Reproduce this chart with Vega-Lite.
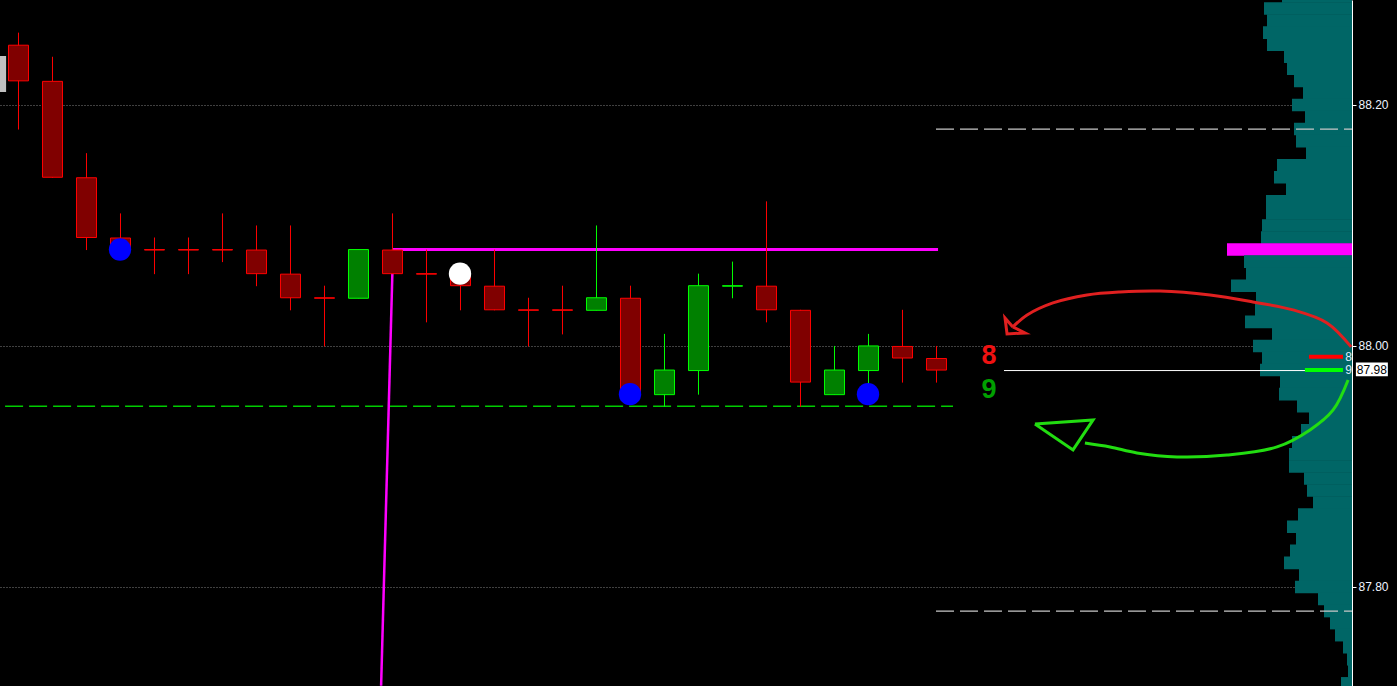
{
  "$schema": "https://vega.github.io/schema/vega-lite/v6.json",
  "width": 1352,
  "height": 686,
  "autosize": "none",
  "padding": {"left": 0, "top": 0, "right": 45, "bottom": 0},
  "background": "#000000",
  "config": {"view": {"stroke": null}, "axisX": {"disable": true}, "scale": {"continuousPadding": 0}},
  "datasets": {
    "candles": [
      {"i":0,"o":88.25,"h":88.26,"l":88.18,"c":88.22,"dir":"down"},
      {"i":1,"o":88.22,"h":88.24,"l":88.14,"c":88.14,"dir":"down"},
      {"i":2,"o":88.14,"h":88.16,"l":88.08,"c":88.09,"dir":"down"},
      {"i":3,"o":88.09,"h":88.11,"l":88.08,"c":88.08,"dir":"down"},
      {"i":4,"o":88.08,"h":88.09,"l":88.06,"c":88.08,"dir":"down"},
      {"i":5,"o":88.08,"h":88.09,"l":88.06,"c":88.08,"dir":"down"},
      {"i":6,"o":88.08,"h":88.11,"l":88.07,"c":88.08,"dir":"down"},
      {"i":7,"o":88.08,"h":88.10,"l":88.05,"c":88.06,"dir":"down"},
      {"i":8,"o":88.06,"h":88.10,"l":88.03,"c":88.04,"dir":"down"},
      {"i":9,"o":88.04,"h":88.05,"l":88.00,"c":88.04,"dir":"down"},
      {"i":10,"o":88.04,"h":88.08,"l":88.04,"c":88.08,"dir":"up"},
      {"i":11,"o":88.08,"h":88.11,"l":88.06,"c":88.06,"dir":"down"},
      {"i":12,"o":88.06,"h":88.08,"l":88.02,"c":88.06,"dir":"down"},
      {"i":13,"o":88.06,"h":88.06,"l":88.03,"c":88.05,"dir":"down"},
      {"i":14,"o":88.05,"h":88.08,"l":88.03,"c":88.03,"dir":"down"},
      {"i":15,"o":88.03,"h":88.04,"l":88.00,"c":88.03,"dir":"down"},
      {"i":16,"o":88.03,"h":88.05,"l":88.01,"c":88.03,"dir":"down"},
      {"i":17,"o":88.03,"h":88.10,"l":88.03,"c":88.04,"dir":"up"},
      {"i":18,"o":88.04,"h":88.05,"l":87.96,"c":87.96,"dir":"down"},
      {"i":19,"o":87.96,"h":88.01,"l":87.95,"c":87.98,"dir":"up"},
      {"i":20,"o":87.98,"h":88.06,"l":87.96,"c":88.05,"dir":"up"},
      {"i":21,"o":88.05,"h":88.07,"l":88.04,"c":88.05,"dir":"up"},
      {"i":22,"o":88.05,"h":88.12,"l":88.02,"c":88.03,"dir":"down"},
      {"i":23,"o":88.03,"h":88.03,"l":87.95,"c":87.97,"dir":"down"},
      {"i":24,"o":87.96,"h":88.00,"l":87.96,"c":87.98,"dir":"up"},
      {"i":25,"o":87.98,"h":88.01,"l":87.96,"c":88.00,"dir":"up"},
      {"i":26,"o":88.00,"h":88.03,"l":87.97,"c":87.99,"dir":"down"},
      {"i":27,"o":87.99,"h":88.00,"l":87.97,"c":87.98,"dir":"down"}
    ],
    "dots": [
      {"i":3,"p":88.08,"k":"blue"},
      {"i":13,"p":88.06,"k":"white"},
      {"i":18,"p":87.96,"k":"blue"},
      {"i":25,"p":87.96,"k":"blue"}
    ],
    "profile": [
      {"p":88.29,"v":70,"k":"vol"},{"p":88.28,"v":88,"k":"vol"},{"p":88.27,"v":85,"k":"vol"},
      {"p":88.26,"v":89,"k":"vol"},{"p":88.25,"v":85,"k":"vol"},{"p":88.24,"v":68,"k":"vol"},
      {"p":88.23,"v":65,"k":"vol"},{"p":88.22,"v":58,"k":"vol"},{"p":88.21,"v":49,"k":"vol"},
      {"p":88.20,"v":60,"k":"vol"},{"p":88.19,"v":47,"k":"vol"},{"p":88.18,"v":58,"k":"vol"},
      {"p":88.17,"v":56,"k":"vol"},{"p":88.16,"v":46,"k":"vol"},{"p":88.15,"v":75,"k":"vol"},
      {"p":88.14,"v":78,"k":"vol"},{"p":88.13,"v":66,"k":"vol"},{"p":88.12,"v":86,"k":"vol"},
      {"p":88.11,"v":86,"k":"vol"},{"p":88.10,"v":90,"k":"vol"},{"p":88.09,"v":91,"k":"vol"},
      {"p":88.08,"v":125,"k":"poc"},{"p":88.07,"v":108,"k":"vol"},{"p":88.06,"v":106,"k":"vol"},
      {"p":88.05,"v":121,"k":"vol"},{"p":88.04,"v":96,"k":"vol"},{"p":88.03,"v":97,"k":"vol"},
      {"p":88.02,"v":107,"k":"vol"},{"p":88.01,"v":80,"k":"vol"},{"p":88.00,"v":99,"k":"vol"},
      {"p":87.99,"v":90,"k":"vol"},{"p":87.98,"v":92,"k":"vol"},{"p":87.97,"v":72,"k":"vol"},
      {"p":87.96,"v":73,"k":"vol"},{"p":87.95,"v":55,"k":"vol"},{"p":87.94,"v":43,"k":"vol"},
      {"p":87.93,"v":51,"k":"vol"},{"p":87.92,"v":60,"k":"vol"},{"p":87.91,"v":63,"k":"vol"},
      {"p":87.90,"v":63,"k":"vol"},{"p":87.89,"v":48,"k":"vol"},{"p":87.88,"v":45,"k":"vol"},
      {"p":87.87,"v":39,"k":"vol"},{"p":87.86,"v":54,"k":"vol"},{"p":87.85,"v":65,"k":"vol"},
      {"p":87.84,"v":56,"k":"vol"},{"p":87.83,"v":62,"k":"vol"},{"p":87.82,"v":68,"k":"vol"},
      {"p":87.81,"v":53,"k":"vol"},{"p":87.80,"v":57,"k":"vol"},{"p":87.79,"v":34,"k":"vol"},
      {"p":87.78,"v":28,"k":"vol"},{"p":87.77,"v":22,"k":"vol"},{"p":87.76,"v":17,"k":"vol"},
      {"p":87.75,"v":9,"k":"vol"},{"p":87.74,"v":5,"k":"vol"},{"p":87.73,"v":4,"k":"vol"},
      {"p":87.72,"v":11,"k":"vol"}
    ],
    "arrows": [
      {"g":"rc","ord":0,"i":39.21,"p":87.9992},
      {"g":"rc","ord":1,"i":38.50,"p":88.0191},
      {"g":"rc","ord":2,"i":37.50,"p":88.0299},
      {"g":"rc","ord":3,"i":36.32,"p":88.0365},
      {"g":"rc","ord":4,"i":35.06,"p":88.0423},
      {"g":"rc","ord":5,"i":33.59,"p":88.0456},
      {"g":"rc","ord":6,"i":32.41,"p":88.0448},
      {"g":"rc","ord":7,"i":31.44,"p":88.0423},
      {"g":"rc","ord":8,"i":30.44,"p":88.0357},
      {"g":"rc","ord":9,"i":29.68,"p":88.0257},
      {"g":"rc","ord":10,"i":29.26,"p":88.0158},
      {"g":"rh","ord":0,"i":29.26,"p":88.0158},
      {"g":"rh","ord":1,"i":29.03,"p":88.0232},
      {"g":"rh","ord":2,"i":29.09,"p":88.0100},
      {"g":"rh","ord":3,"i":29.62,"p":88.0108},
      {"g":"rh","ord":4,"i":29.26,"p":88.0158},
      {"g":"gc","ord":0,"i":39.12,"p":87.9718},
      {"g":"gc","ord":1,"i":38.68,"p":87.9469},
      {"g":"gc","ord":2,"i":38.00,"p":87.9303},
      {"g":"gc","ord":3,"i":37.03,"p":87.9162},
      {"g":"gc","ord":4,"i":35.56,"p":87.9095},
      {"g":"gc","ord":5,"i":34.09,"p":87.9079},
      {"g":"gc","ord":6,"i":32.91,"p":87.9112},
      {"g":"gc","ord":7,"i":32.12,"p":87.9162},
      {"g":"gc","ord":8,"i":31.38,"p":87.9195},
      {"g":"gh","ord":0,"i":29.91,"p":87.9353},
      {"g":"gh","ord":1,"i":31.62,"p":87.9386},
      {"g":"gh","ord":2,"i":31.03,"p":87.9137},
      {"g":"gh","ord":3,"i":29.91,"p":87.9353}
    ]
  },
  "layer": [
    {
      "data": {"name": "profile"},
      "mark": {"type": "bar", "orient": "horizontal", "height": 12.6},
      "encoding": {
        "x": {"field": "v", "type": "quantitative", "scale": {"domain": [0, 1352], "reverse": true, "nice": false, "zero": false, "padding": 0}},
        "x2": {"datum": 0},
        "y": {"field": "p", "type": "quantitative", "title": null, "scale": {"domain": [87.7178, 88.2871], "nice": false, "zero": false, "padding": 0},
          "axis": {"orient": "right", "values": [87.8, 88.0, 88.2], "format": ".2f", "title": null,
            "domainColor": "#ffffff", "domainWidth": 1, "tickColor": "#ffffff", "tickSize": 4, "labelPadding": 2,
            "labelColor": "#eef4ff", "labelFont": "Liberation Sans", "labelFontSize": 12,
            "grid": true, "gridColor": "#808080", "gridDash": [1, 2], "gridWidth": 1}},
        "color": {"field": "k", "type": "nominal", "scale": {"domain": ["vol", "poc"], "range": ["#006666", "#ff00ff"]}, "legend": null}
      }
    },
    {
      "layer": [
        {
          "data": {"values": [{}]},
          "mark": {"type": "rect", "color": "#c0c0c0"},
          "encoding": {
            "x": {"datum": -0.59, "type": "quantitative", "scale": {"domain": [-0.5294, 39.2353], "nice": false, "zero": false, "padding": 0}},
            "x2": {"datum": -0.35},
            "y": {"datum": 88.2407, "type": "quantitative", "title": null, "scale": {"domain": [87.7178, 88.2871], "nice": false, "zero": false, "padding": 0}},
            "y2": {"datum": 88.2108}
          }
        },
        {
          "data": {"values": [{}]},
          "mark": {"type": "rule", "color": "#00cc00", "strokeWidth": 1.5, "strokeDash": [18, 6]},
          "encoding": {
            "x": {"datum": -0.38, "type": "quantitative", "scale": {"domain": [-0.5294, 39.2353], "nice": false, "zero": false, "padding": 0}},
            "x2": {"datum": 27.5},
            "y": {"datum": 87.95, "type": "quantitative", "title": null, "scale": {"domain": [87.7178, 88.2871], "nice": false, "zero": false, "padding": 0}}
          }
        },
        {
          "data": {"values": [{"p": 88.18}, {"p": 87.78}]},
          "mark": {"type": "rule", "color": "#c8c8c8", "strokeWidth": 1.2, "strokeDash": [18, 6]},
          "encoding": {
            "x": {"datum": 27.0, "type": "quantitative", "scale": {"domain": [-0.5294, 39.2353], "nice": false, "zero": false, "padding": 0}},
            "x2": {"datum": 39.235},
            "y": {"field": "p", "type": "quantitative", "title": null, "scale": {"domain": [87.7178, 88.2871], "nice": false, "zero": false, "padding": 0}}
          }
        },
        {
          "data": {"values": [{}]},
          "mark": {"type": "rule", "color": "#ff00ff", "strokeWidth": 2.5},
          "encoding": {
            "x": {"datum": 11.03, "type": "quantitative", "scale": {"domain": [-0.5294, 39.2353], "nice": false, "zero": false, "padding": 0}},
            "x2": {"datum": 10.68},
            "y": {"datum": 88.08, "type": "quantitative", "title": null, "scale": {"domain": [87.7178, 88.2871], "nice": false, "zero": false, "padding": 0}},
            "y2": {"datum": 87.718}
          }
        },
        {
          "data": {"values": [{}]},
          "mark": {"type": "rule", "color": "#ff00ff", "strokeWidth": 3},
          "encoding": {
            "x": {"datum": 11.03, "type": "quantitative", "scale": {"domain": [-0.5294, 39.2353], "nice": false, "zero": false, "padding": 0}},
            "x2": {"datum": 27.06},
            "y": {"datum": 88.08, "type": "quantitative", "title": null, "scale": {"domain": [87.7178, 88.2871], "nice": false, "zero": false, "padding": 0}}
          }
        },
        {
          "data": {"values": [{}]},
          "mark": {"type": "rule", "color": "#ffffff", "strokeWidth": 1, "yOffset": 0.5},
          "encoding": {
            "x": {"datum": 29.0, "type": "quantitative", "scale": {"domain": [-0.5294, 39.2353], "nice": false, "zero": false, "padding": 0}},
            "x2": {"datum": 38.6},
            "y": {"datum": 87.98, "type": "quantitative", "title": null, "scale": {"domain": [87.7178, 88.2871], "nice": false, "zero": false, "padding": 0}}
          }
        },
        {
          "data": {"name": "candles"},
          "mark": {"type": "rule", "strokeWidth": 1, "xOffset": 0.5, "yOffset": 0.5},
          "encoding": {
            "x": {"field": "i", "type": "quantitative", "scale": {"domain": [-0.5294, 39.2353], "nice": false, "zero": false, "padding": 0}},
            "y": {"field": "l", "type": "quantitative", "title": null, "scale": {"domain": [87.7178, 88.2871], "nice": false, "zero": false, "padding": 0}},
            "y2": {"field": "h"},
            "stroke": {"field": "dir", "type": "nominal", "scale": {"domain": ["up", "down"], "range": ["#00ff00", "#ff0000"]}, "legend": null}
          }
        },
        {
          "data": {"name": "candles"},
          "mark": {"type": "bar", "orient": "vertical", "width": 20, "strokeWidth": 1, "xOffset": 0.5, "yOffset": 0.5},
          "encoding": {
            "x": {"field": "i", "type": "quantitative", "scale": {"domain": [-0.5294, 39.2353], "nice": false, "zero": false, "padding": 0}},
            "y": {"field": "o", "type": "quantitative", "title": null, "scale": {"domain": [87.7178, 88.2871], "nice": false, "zero": false, "padding": 0}},
            "y2": {"field": "c"},
            "fill": {"field": "dir", "type": "nominal", "scale": {"domain": ["up", "down"], "range": ["#008000", "#800000"]}, "legend": null},
            "stroke": {"field": "dir", "type": "nominal", "scale": {"domain": ["up", "down"], "range": ["#00ff00", "#ff0000"]}, "legend": null}
          }
        },
        {
          "data": {"name": "dots"},
          "transform": [{"filter": "datum.k == 'blue'"}],
          "mark": {"type": "circle", "color": "#0000ff", "opacity": 1, "size": 500},
          "encoding": {
            "x": {"field": "i", "type": "quantitative", "scale": {"domain": [-0.5294, 39.2353], "nice": false, "zero": false, "padding": 0}},
            "y": {"field": "p", "type": "quantitative", "title": null, "scale": {"domain": [87.7178, 88.2871], "nice": false, "zero": false, "padding": 0}}
          }
        },
        {
          "data": {"name": "dots"},
          "transform": [{"filter": "datum.k == 'white'"}],
          "mark": {"type": "circle", "color": "#ffffff", "opacity": 1, "size": 500},
          "encoding": {
            "x": {"field": "i", "type": "quantitative", "scale": {"domain": [-0.5294, 39.2353], "nice": false, "zero": false, "padding": 0}},
            "y": {"field": "p", "type": "quantitative", "title": null, "scale": {"domain": [87.7178, 88.2871], "nice": false, "zero": false, "padding": 0}}
          }
        },
        {
          "data": {"values": [{}]},
          "mark": {"type": "rule", "color": "#ff0000", "strokeWidth": 4},
          "encoding": {
            "x": {"datum": 37.97, "type": "quantitative", "scale": {"domain": [-0.5294, 39.2353], "nice": false, "zero": false, "padding": 0}},
            "x2": {"datum": 38.97},
            "y": {"datum": 87.991, "type": "quantitative", "title": null, "scale": {"domain": [87.7178, 88.2871], "nice": false, "zero": false, "padding": 0}}
          }
        },
        {
          "data": {"values": [{}]},
          "mark": {"type": "rule", "color": "#00ff00", "strokeWidth": 4},
          "encoding": {
            "x": {"datum": 37.85, "type": "quantitative", "scale": {"domain": [-0.5294, 39.2353], "nice": false, "zero": false, "padding": 0}},
            "x2": {"datum": 38.97},
            "y": {"datum": 87.98, "type": "quantitative", "title": null, "scale": {"domain": [87.7178, 88.2871], "nice": false, "zero": false, "padding": 0}}
          }
        },
        {
          "data": {"values": [{"t": "8", "p": 87.991}, {"t": "9", "p": 87.98}]},
          "mark": {"type": "text", "align": "left", "baseline": "middle", "font": "Liberation Sans", "fontSize": 12, "color": "#d8ecff"},
          "encoding": {
            "x": {"datum": 39.04, "type": "quantitative", "scale": {"domain": [-0.5294, 39.2353], "nice": false, "zero": false, "padding": 0}},
            "y": {"field": "p", "type": "quantitative", "title": null, "scale": {"domain": [87.7178, 88.2871], "nice": false, "zero": false, "padding": 0}},
            "text": {"field": "t"}
          }
        },
        {
          "data": {"values": [{}]},
          "mark": {"type": "rect", "color": "#ffffff"},
          "encoding": {
            "x": {"datum": 39.35, "type": "quantitative", "scale": {"domain": [-0.5294, 39.2353], "nice": false, "zero": false, "padding": 0}},
            "x2": {"datum": 40.29},
            "y": {"datum": 87.9862, "type": "quantitative", "title": null, "scale": {"domain": [87.7178, 88.2871], "nice": false, "zero": false, "padding": 0}},
            "y2": {"datum": 87.9748}
          }
        },
        {
          "data": {"values": [{"t": "87.98"}]},
          "mark": {"type": "text", "align": "center", "baseline": "middle", "font": "Liberation Sans", "fontSize": 12, "color": "#000000"},
          "encoding": {
            "x": {"datum": 39.82, "type": "quantitative", "scale": {"domain": [-0.5294, 39.2353], "nice": false, "zero": false, "padding": 0}},
            "y": {"datum": 87.98, "type": "quantitative", "title": null, "scale": {"domain": [87.7178, 88.2871], "nice": false, "zero": false, "padding": 0}},
            "text": {"field": "t"}
          }
        },
        {
          "data": {"values": [{"t": "8"}]},
          "mark": {"type": "text", "align": "center", "baseline": "middle", "font": "Liberation Sans", "fontWeight": "bold", "fontSize": 27, "color": "#ee1111"},
          "encoding": {
            "x": {"datum": 28.56, "type": "quantitative", "scale": {"domain": [-0.5294, 39.2353], "nice": false, "zero": false, "padding": 0}},
            "y": {"datum": 87.9917, "type": "quantitative", "title": null, "scale": {"domain": [87.7178, 88.2871], "nice": false, "zero": false, "padding": 0}},
            "text": {"field": "t"}
          }
        },
        {
          "data": {"values": [{"t": "9"}]},
          "mark": {"type": "text", "align": "center", "baseline": "middle", "font": "Liberation Sans", "fontWeight": "bold", "fontSize": 27, "color": "#00a000"},
          "encoding": {
            "x": {"datum": 28.56, "type": "quantitative", "scale": {"domain": [-0.5294, 39.2353], "nice": false, "zero": false, "padding": 0}},
            "y": {"datum": 87.9635, "type": "quantitative", "title": null, "scale": {"domain": [87.7178, 88.2871], "nice": false, "zero": false, "padding": 0}},
            "text": {"field": "t"}
          }
        },
        {
          "data": {"name": "arrows"},
          "transform": [{"filter": "datum.g == 'rc'"}],
          "mark": {"type": "line", "color": "#e02020", "strokeWidth": 3, "interpolate": "catmull-rom"},
          "encoding": {
            "x": {"field": "i", "type": "quantitative", "scale": {"domain": [-0.5294, 39.2353], "nice": false, "zero": false, "padding": 0}},
            "y": {"field": "p", "type": "quantitative", "title": null, "scale": {"domain": [87.7178, 88.2871], "nice": false, "zero": false, "padding": 0}},
            "order": {"field": "ord", "type": "quantitative"}
          }
        },
        {
          "data": {"name": "arrows"},
          "transform": [{"filter": "datum.g == 'rh'"}],
          "mark": {"type": "line", "color": "#e02020", "strokeWidth": 3, "interpolate": "linear"},
          "encoding": {
            "x": {"field": "i", "type": "quantitative", "scale": {"domain": [-0.5294, 39.2353], "nice": false, "zero": false, "padding": 0}},
            "y": {"field": "p", "type": "quantitative", "title": null, "scale": {"domain": [87.7178, 88.2871], "nice": false, "zero": false, "padding": 0}},
            "order": {"field": "ord", "type": "quantitative"}
          }
        },
        {
          "data": {"name": "arrows"},
          "transform": [{"filter": "datum.g == 'gc'"}],
          "mark": {"type": "line", "color": "#22dd11", "strokeWidth": 3, "interpolate": "catmull-rom"},
          "encoding": {
            "x": {"field": "i", "type": "quantitative", "scale": {"domain": [-0.5294, 39.2353], "nice": false, "zero": false, "padding": 0}},
            "y": {"field": "p", "type": "quantitative", "title": null, "scale": {"domain": [87.7178, 88.2871], "nice": false, "zero": false, "padding": 0}},
            "order": {"field": "ord", "type": "quantitative"}
          }
        },
        {
          "data": {"name": "arrows"},
          "transform": [{"filter": "datum.g == 'gh'"}],
          "mark": {"type": "line", "color": "#22dd11", "strokeWidth": 3, "interpolate": "linear"},
          "encoding": {
            "x": {"field": "i", "type": "quantitative", "scale": {"domain": [-0.5294, 39.2353], "nice": false, "zero": false, "padding": 0}},
            "y": {"field": "p", "type": "quantitative", "title": null, "scale": {"domain": [87.7178, 88.2871], "nice": false, "zero": false, "padding": 0}},
            "order": {"field": "ord", "type": "quantitative"}
          }
        }
      ]
    }
  ],
  "resolve": {"scale": {"x": "independent"}}
}
